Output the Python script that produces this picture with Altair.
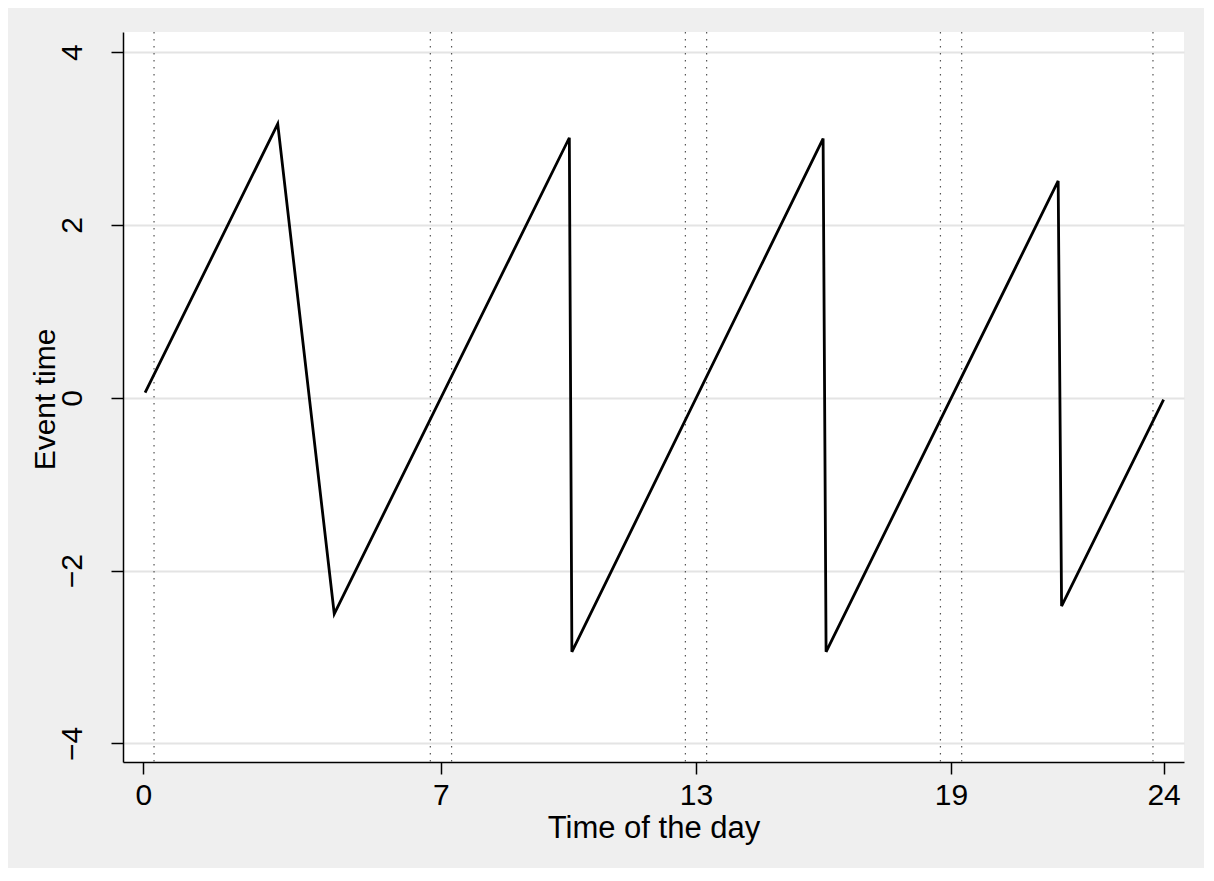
import altair as alt
import pandas as pd

# Line vertices: time of day (hours) and event time
times = [0.04, 3.16, 4.49, 10.02, 10.08, 15.99, 16.06, 21.52, 21.60, 24.0]
event = [0.06, 3.17, -2.50, 3.01, -2.94, 3.00, -2.94, 2.51, -2.41, -0.02]

# Dotted vertical reference lines
ref_times = [0.25, 6.75, 7.25, 12.75, 13.25, 18.75, 19.25, 23.75]

x_ticks = [0, 7, 13, 19, 24]
y_ticks = [-4, -2, 0, 2, 4]

line_df = pd.DataFrame({"t": times, "e": event, "order": list(range(len(times)))})
ref_df = pd.DataFrame({"t": ref_times})

FONT = "Liberation Sans"
FS = 30

x_scale = alt.Scale(domain=[-0.48, 24.48], nice=False, zero=False)
y_scale = alt.Scale(domain=[-4.215, 4.234], nice=False, zero=False)

x_axis = alt.Axis(
    title="Time of the day",
    values=x_ticks,
    grid=False,
    domainColor="black",
    domainWidth=1.5,
    tickColor="black",
    tickWidth=1.5,
    tickSize=12,
    labelFont=FONT,
    labelFontSize=FS,
    labelColor="black",
    labelPadding=6,
    labelBaseline="top",
    labelFlush=False,
    labelOverlap=False,
    titleFont=FONT,
    titleFontSize=31,
    titleFontWeight="normal",
    titleColor="black",
    titleBaseline="alphabetic",
    titleY=75,
)

y_axis = alt.Axis(
    title="Event time",
    values=y_ticks,
    grid=True,
    gridColor="#e4e4e4",
    gridWidth=2,
    domainColor="black",
    domainWidth=1.5,
    tickColor="black",
    tickWidth=1.5,
    tickSize=12,
    labelFont=FONT,
    labelFontSize=FS,
    labelColor="black",
    labelAngle=270,
    labelAlign="center",
    labelBaseline="alphabetic",
    labelPadding=30,
    labelFlush=False,
    labelOverlap=False,
    titleFont=FONT,
    titleFontSize=FS,
    titleFontWeight="normal",
    titleColor="black",
    titleAngle=270,
    titleAlign="center",
    titleBaseline="alphabetic",
    titleX=-69,
    titleY=367,
)

rules = alt.Chart(ref_df).mark_rule(
    color="#555555", strokeWidth=1.2, strokeDash=[1.5, 5.5]
).encode(x=alt.X("t:Q", scale=x_scale, axis=x_axis))

line = alt.Chart(line_df).mark_line(color="black", strokeWidth=2.8).encode(
    x=alt.X("t:Q", scale=x_scale, axis=x_axis),
    y=alt.Y("e:Q", scale=y_scale, axis=y_axis),
    order="order:Q",
)

chart = (
    alt.layer(rules, line)
    .properties(
        width=1061,
        height=730,
        background="#efefef",
        padding={"left": 115, "top": 24, "right": 20, "bottom": 106},
        autosize=alt.AutoSizeParams(type="none"),
    )
    .configure_view(fill="white", stroke=None)
)

chart.save("out.html", embed_options={"renderer": "svg", "actions": False})
